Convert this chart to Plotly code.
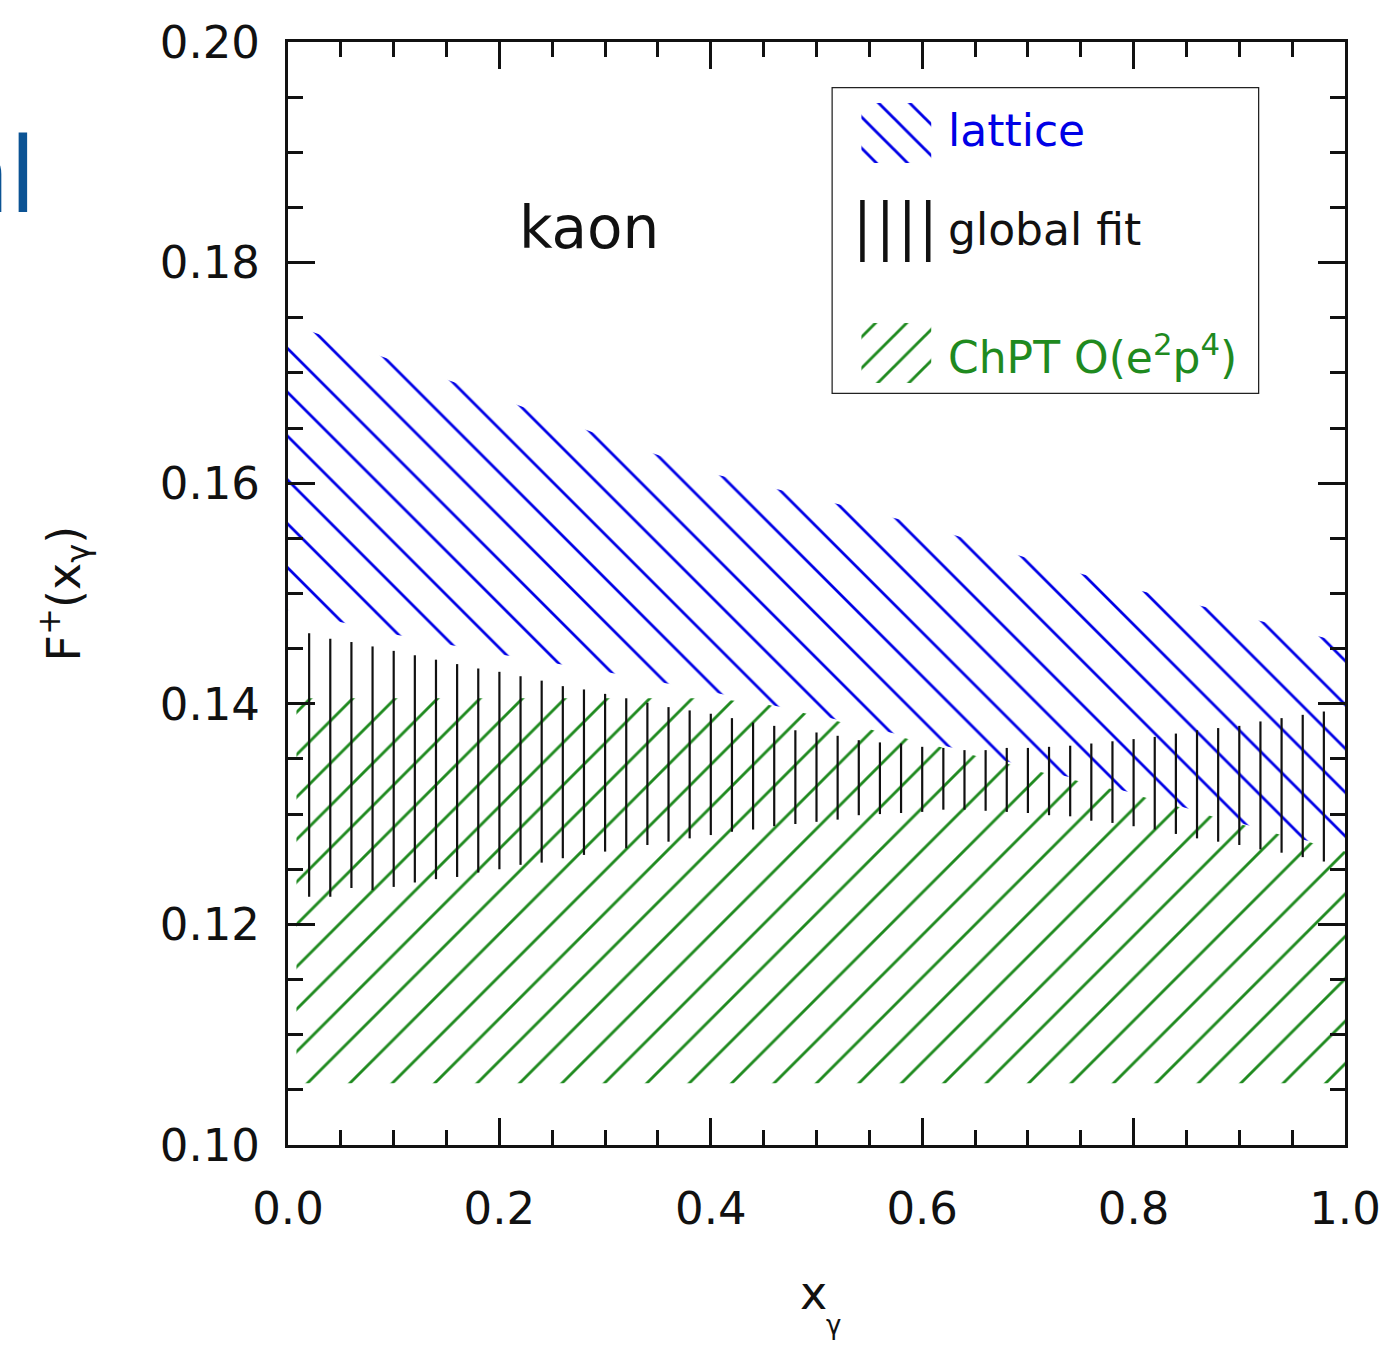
import plotly.graph_objects as go

# ---------------- data ----------------
lattice_x = [0.0, 0.1, 0.2, 0.3, 0.4, 0.5, 0.6, 0.7, 0.8, 0.9, 1.0]
lattice_upper = [0.1745, 0.1711, 0.1677, 0.1642, 0.1609, 0.1586, 0.1562, 0.1532, 0.1504, 0.1480, 0.1455]
lattice_lower = [0.1485, 0.1463, 0.1445, 0.1429, 0.1411, 0.1390, 0.1367, 0.1343, 0.1319, 0.1292, 0.1267]

chpt_x = [0.008, 0.1, 0.2, 0.3, 0.4, 0.45, 0.5, 0.6, 0.7, 0.8, 0.9, 1.0]
chpt_upper = [0.1405, 0.1405, 0.1405, 0.1405, 0.1405, 0.1400, 0.1389, 0.1365, 0.1341, 0.1318, 0.1291, 0.1266]
chpt_lower = [0.1056, 0.1056, 0.1056, 0.1056, 0.1056, 0.1056, 0.1056, 0.1056, 0.1056, 0.1056, 0.1056, 0.1056]

fit_x = [0.02, 0.04, 0.06, 0.08, 0.10, 0.12, 0.14, 0.16, 0.18, 0.20,
         0.22, 0.24, 0.26, 0.28, 0.30, 0.32, 0.34, 0.36, 0.38, 0.40,
         0.42, 0.44, 0.46, 0.48, 0.50, 0.52, 0.54, 0.56, 0.58, 0.60,
         0.62, 0.64, 0.66, 0.68, 0.70, 0.72, 0.74, 0.76, 0.78, 0.80,
         0.82, 0.84, 0.86, 0.88, 0.90, 0.92, 0.94, 0.96, 0.98]
fit_upper = [0.1464, 0.1459, 0.1456, 0.1452, 0.1448, 0.1444, 0.1440, 0.1436, 0.1432, 0.1429,
             0.1425, 0.1421, 0.1416, 0.1413, 0.1409, 0.1405, 0.1401, 0.1397, 0.1394, 0.1391,
             0.1387, 0.1383, 0.1380, 0.1376, 0.1374, 0.1371, 0.1367, 0.1365, 0.1364, 0.1361,
             0.1360, 0.1358, 0.1358, 0.1360, 0.1360, 0.1361, 0.1362, 0.1364, 0.1366, 0.1368,
             0.1370, 0.1373, 0.1376, 0.1378, 0.1380, 0.1384, 0.1387, 0.1390, 0.1393]
fit_lower = [0.1225, 0.1225, 0.1233, 0.1231, 0.1234, 0.1238, 0.1241, 0.1243, 0.1247, 0.1250,
             0.1254, 0.1256, 0.1260, 0.1263, 0.1266, 0.1269, 0.1272, 0.1275, 0.1278, 0.1281,
             0.1284, 0.1286, 0.1289, 0.1291, 0.1293, 0.1295, 0.1299, 0.1300, 0.1301, 0.1302,
             0.1304, 0.1304, 0.1303, 0.1302, 0.1301, 0.1299, 0.1298, 0.1294, 0.1292, 0.1289,
             0.1286, 0.1282, 0.1278, 0.1275, 0.1272, 0.1268, 0.1265, 0.1261, 0.1257]

x_ticks = [0.0, 0.2, 0.4, 0.6, 0.8, 1.0]
x_ticklabels = ["0.0", "0.2", "0.4", "0.6", "0.8", "1.0"]
y_ticks = [0.10, 0.12, 0.14, 0.16, 0.18, 0.20]
y_ticklabels = ["0.10", "0.12", "0.14", "0.16", "0.18", "0.20"]

series_names = ["lattice", "global fit", "ChPT O(e<sup>2</sup>p<sup>4</sup>)"]
series_colors = ["#0000e6", "#111111", "#1f8a1f"]
BLUE, BLACK, GREEN = series_colors
FONT = "DejaVu Sans"


def pattern(shape, size, solidity, color):
    return dict(shape=shape, size=size, solidity=solidity, fgcolor=color,
                fgopacity=1, fillmode="replace")


fig = go.Figure()

# ChPT band (green, '/')
fig.add_trace(go.Scatter(
    x=chpt_x + chpt_x[::-1], y=chpt_upper + chpt_lower[::-1],
    fill="toself", mode="lines", line=dict(width=0, color="rgba(0,0,0,0)"),
    fillpattern=pattern("/", 30, 0.095, GREEN),
    hoverinfo="skip", showlegend=False))

# lattice band (blue, '\')
fig.add_trace(go.Scatter(
    x=lattice_x + lattice_x[::-1], y=lattice_upper + lattice_lower[::-1],
    fill="toself", mode="lines", line=dict(width=0, color="rgba(0,0,0,0)"),
    fillpattern=pattern("\\", 31, 0.09, BLUE),
    hoverinfo="skip", showlegend=False))

# global fit (vertical bars)
gx, gy = [], []
for xv, lo, hi in zip(fit_x, fit_lower, fit_upper):
    gx += [xv, xv, None]
    gy += [lo, hi, None]
fig.add_trace(go.Scatter(x=gx, y=gy, mode="lines",
                         line=dict(color=BLACK, width=2.2),
                         hoverinfo="skip", showlegend=False))

# ---------------- legend (drawn in its own pixel-like axes) ----------------
fig.add_trace(go.Scatter(
    x=[30, 100, 100, 30, 30], y=[16, 16, 76, 76, 16], xaxis="x2", yaxis="y2",
    fill="toself", mode="lines", line=dict(width=0, color="rgba(0,0,0,0)"),
    fillpattern=pattern("\\", 22, 0.13, BLUE),
    hoverinfo="skip", showlegend=False))
fig.add_trace(go.Scatter(
    x=[30, 100, 100, 30, 30], y=[236, 236, 296, 296, 236], xaxis="x2", yaxis="y2",
    fill="toself", mode="lines", line=dict(width=0, color="rgba(0,0,0,0)"),
    fillpattern=pattern("/", 22, 0.13, GREEN),
    hoverinfo="skip", showlegend=False))
bx, by = [], []
for xv in [31, 54, 76, 97]:
    bx += [xv, xv, None]
    by += [113, 175, None]
fig.add_trace(go.Scatter(x=bx, y=by, xaxis="x2", yaxis="y2", mode="lines",
                         line=dict(color=BLACK, width=4.5),
                         hoverinfo="skip", showlegend=False))

legend_y = [44, 143, 268]
annotations = []
for name, col, ly in zip(series_names, series_colors, legend_y):
    annotations.append(dict(x=115, y=ly, xref="x2", yref="y2", text=name,
                            showarrow=False, xanchor="left", yanchor="middle",
                            font=dict(family=FONT, size=44, color=col)))

annotations += [
    dict(x=0.285, y=0.1831, xref="x", yref="y", text="kaon", showarrow=False,
         xanchor="center", yanchor="middle", font=dict(family=FONT, size=58, color="#111")),
    dict(x=-0.212, y=0.5, xref="paper", yref="paper",
         text="F<sup>+</sup>(x<sub>γ</sub>)", textangle=-90, showarrow=False,
         xanchor="center", yanchor="middle", font=dict(family=FONT, size=46, color="#111")),
    dict(x=0.497, y=-0.134, xref="paper", yref="paper", text="x", showarrow=False,
         xanchor="center", yanchor="middle", font=dict(family=FONT, size=46, color="#111")),
    dict(x=0.516, y=-0.163, xref="paper", yref="paper", text="γ", showarrow=False,
         xanchor="center", yanchor="middle", font=dict(family=FONT, size=26, color="#111")),
    dict(x=-0.2368, y=0.883, xref="paper", yref="paper", text="al", showarrow=False,
         xanchor="right", yanchor="middle",
         font=dict(family="Open Sans", size=104, color="#0b5394", weight=500)),
]

axis_common = dict(
    showline=True, linewidth=3, linecolor="#111", mirror="ticks",
    ticks="inside", ticklen=27, tickwidth=3, tickcolor="#111",
    showgrid=False, zeroline=False,
    tickfont=dict(family=FONT, size=45, color="#111"),
)

fig.update_layout(
    width=1393, height=1346,
    margin=dict(l=288, r=45, t=42, b=201),
    paper_bgcolor="white", plot_bgcolor="white",
    showlegend=False,
    xaxis=dict(range=[0, 1], tickvals=x_ticks, ticktext=x_ticklabels,
               minor=dict(dtick=0.05, ticks="inside", ticklen=15, tickwidth=3, tickcolor="#111"),
               ticklabelstandoff=22, **axis_common),
    yaxis=dict(range=[0.10, 0.20], tickvals=y_ticks, ticktext=y_ticklabels,
               minor=dict(dtick=0.005, ticks="inside", ticklen=15, tickwidth=3, tickcolor="#111"),
               ticklabelstandoff=16, **axis_common),
    xaxis2=dict(domain=[0.5142, 0.9189], range=[0, 429], anchor="y2",
                visible=False, fixedrange=True),
    yaxis2=dict(domain=[0.6809, 0.9592], range=[307, 0], anchor="x2",
                visible=False, fixedrange=True),
    shapes=[dict(type="rect", xref="x2", yref="y2", x0=0, x1=429, y0=0, y1=307,
                 line=dict(color="#222", width=2.5), fillcolor="rgba(0,0,0,0)", layer="above")],
    annotations=annotations,
)

fig.write_html("out.html")
